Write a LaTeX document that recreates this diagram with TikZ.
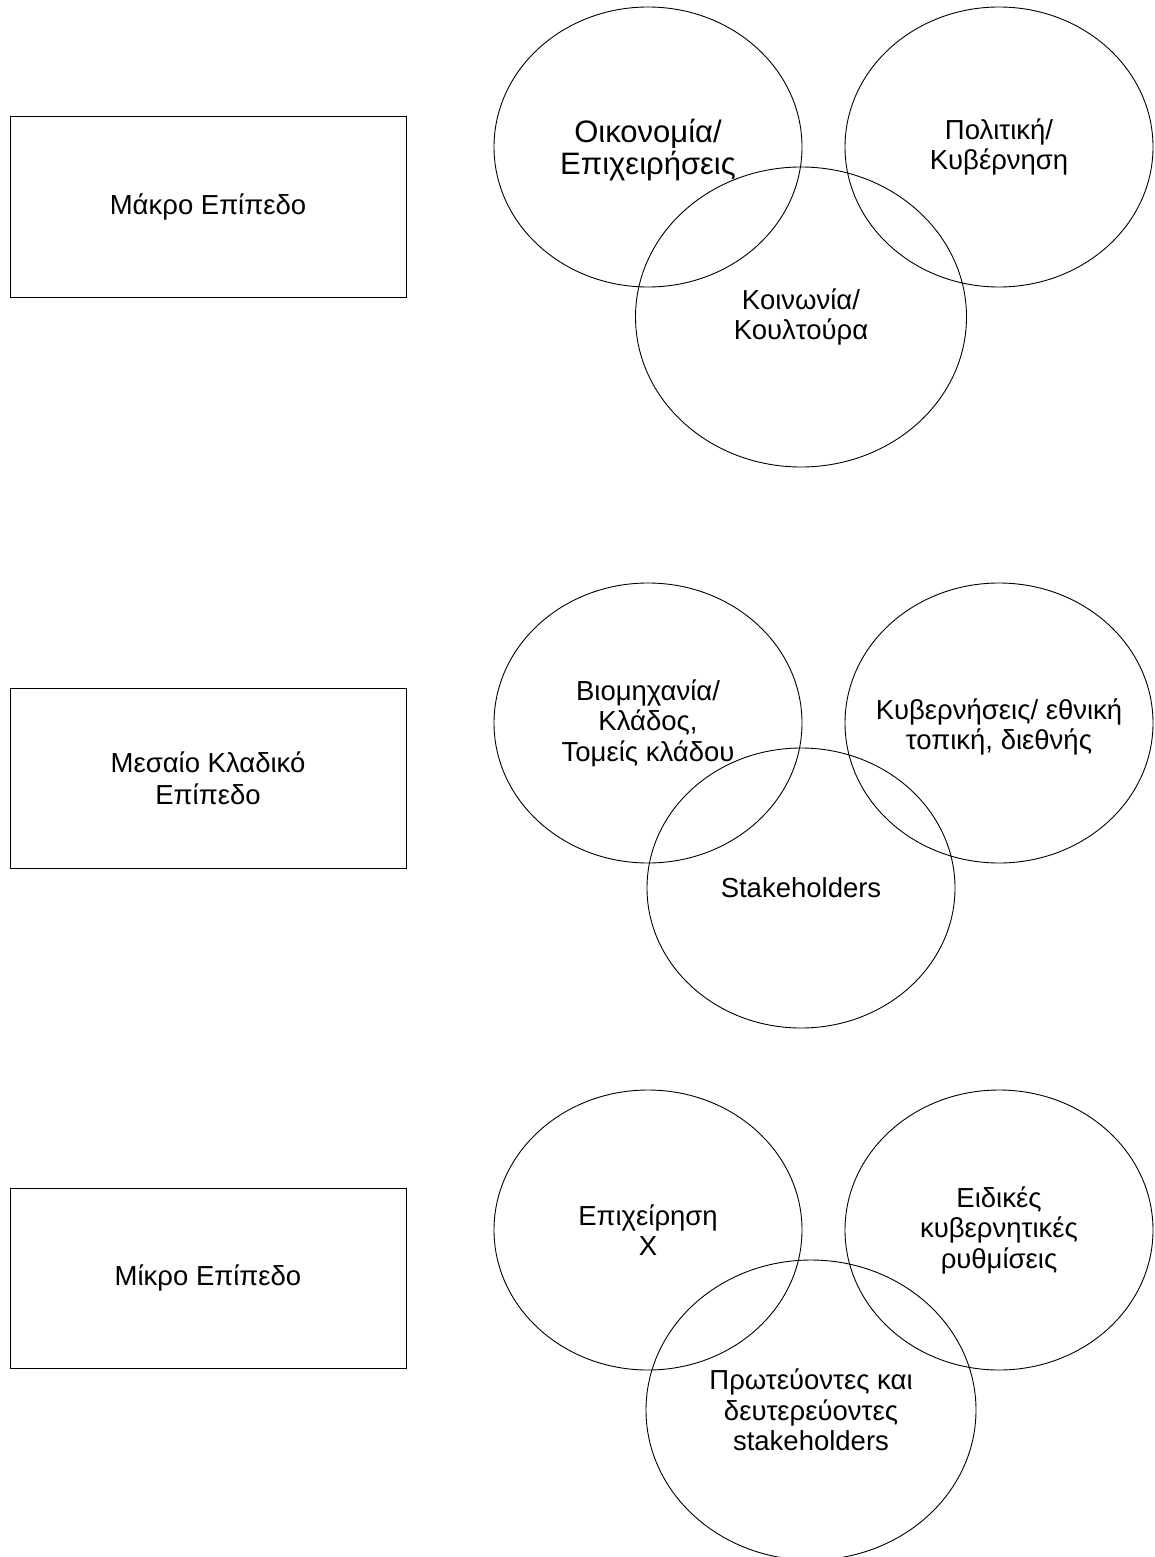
\documentclass[tikz,border=0pt]{standalone}
\usepackage{fontspec}
\setmainfont{Liberation Sans}
\usetikzlibrary{shapes.geometric}
\begin{document}
\begin{tikzpicture}[x=1pt,y=-1pt,
  lvl/.style={draw=black, line width=1pt, minimum width=396pt, minimum height=180pt, inner sep=0pt, align=center, font=\fontsize{27.5}{32}\selectfont},
  ell/.style={draw=black, line width=0.9pt, ellipse, inner sep=0pt},
  small/.style={ell, minimum width=308pt, minimum height=280pt},
  big/.style={ell, minimum width=330pt, minimum height=300pt},
  txt/.style={align=center, inner sep=0pt, font=\fontsize{27.5}{30.5}\selectfont}]
\useasboundingbox (0,0) rectangle (1155,1557);
% level boxes
\node[lvl] (macro) at (208,207) {Μάκρο Επίπεδο};
\node[lvl] (meso) at (208,778) {Μεσαίο Κλαδικό\\Επίπεδο};
\node[lvl] (micro) at (208,1278) {Μίκρο Επίπεδο};
% macro level
\node[small] (econ) at (648,147) {};
\node[small] (pol) at (999,147) {};
\node[big, minimum width=331pt] (soc) at (801,317) {};
\node[txt, font=\fontsize{31}{32}\selectfont] (econ-t) at ([yshift=-3pt]econ.center) {Οικονομία/\\Επιχειρήσεις};
\node[txt] (pol-t) at (pol.center) {Πολιτική/\\Κυβέρνηση};
\node[txt] (soc-t) at (soc.center) {Κοινωνία/\\Κουλτούρα};
% meso level
\node[small] (ind) at (648,723) {};
\node[small] (gov) at (999,723) {};
\node[small] (stk) at (801,888) {};
\node[txt] (ind-t) at (ind.center) {Βιομηχανία/\\Κλάδος,\\Τομείς κλάδου};
\node[txt] (gov-t) at ([yshift=-4pt]gov.center) {Κυβερνήσεις/ εθνική\\τοπική, διεθνής};
\node[txt] (stk-t) at (stk.center) {Stakeholders};
% micro level
\node[small] (firm) at (648,1230) {};
\node[small] (reg) at (999,1230) {};
\node[big] (prim) at (811,1410) {};
\node[txt] (firm-t) at (firm.center) {Επιχείρηση\\X};
\node[txt] (reg-t) at (reg.center) {Ειδικές\\κυβερνητικές\\ρυθμίσεις};
\node[txt] (prim-t) at (prim.center) {Πρωτεύοντες και\\δευτερεύοντες\\stakeholders};
\end{tikzpicture}
\end{document}
